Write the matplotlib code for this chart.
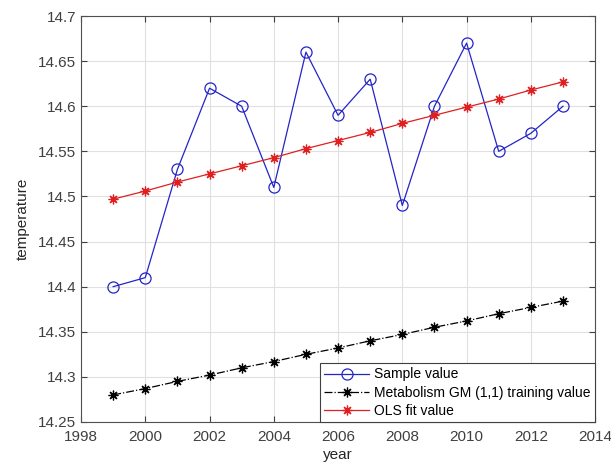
import numpy as np
import matplotlib
matplotlib.use('Agg')
from matplotlib import pyplot as plt

years = list(range(1999, 2014))
sample = [14.40, 14.41, 14.53, 14.62, 14.60, 14.51, 14.66, 14.59, 14.63, 14.49,
          14.60, 14.67, 14.55, 14.57, 14.60]
gm_train = [14.280, 14.287, 14.295, 14.302, 14.310, 14.317, 14.325, 14.332,
            14.340, 14.347, 14.355, 14.362, 14.370, 14.377, 14.384]
ols_fit = [14.497, 14.506, 14.516, 14.525, 14.534, 14.543, 14.553, 14.562,
           14.571, 14.581, 14.590, 14.599, 14.608, 14.618, 14.627]

plt.rcParams['font.family'] = ['Liberation Sans', 'DejaVu Sans']
plt.rcParams['font.size'] = 11

fig = plt.figure(figsize=(6.11, 4.72), dpi=100)
ax = fig.add_axes([0.1326, 0.106, 0.8414, 0.86])

star = (8, 2, 0)  # matlab style asterisk
ax.plot(years, sample, color='#2424c8', lw=0.9, marker='o', ms=8,
        mfc='none', mec='#2424c8', mew=0.9, label='Sample value')
ax.plot(years, gm_train, color='black', lw=0.9, ls='-.', marker=star, ms=7,
        mew=0.9, label='Metabolism GM (1,1) training value')
ax.plot(years, ols_fit, color='#e02020', lw=0.9, marker=star, ms=7,
        mew=0.9, label='OLS fit value')

ax.set_xlim(1998, 2014)
ax.set_ylim(14.25, 14.7)
ax.set_xticks(np.arange(1998, 2015, 2))
ax.set_yticks(np.arange(14.25, 14.701, 0.05))
ax.set_yticklabels(['14.25', '14.3', '14.35', '14.4', '14.45', '14.5',
                    '14.55', '14.6', '14.65', '14.7'])
ax.grid(True, color='#e0e0e0', lw=0.8)
ax.set_axisbelow(True)
ax.tick_params(direction='in', top=True, right=True, colors='#404040',
               labelsize=11, length=4)
ax.tick_params(axis='x', pad=6)
for s in ax.spines.values():
    s.set_color('#505050')
    s.set_linewidth(0.8)

ax.set_xlabel('year', color='#262626', labelpad=3)
ax.set_ylabel('temperature', color='#262626', labelpad=6)

leg = ax.legend(loc='lower right', fancybox=False, framealpha=1, fontsize=10,
                edgecolor='#404040', borderpad=0.3, labelspacing=0.3,
                handlelength=3.2, handletextpad=0.4, borderaxespad=0.0)
leg.get_frame().set_linewidth(0.8)

fig.savefig('out.png', dpi=100)
